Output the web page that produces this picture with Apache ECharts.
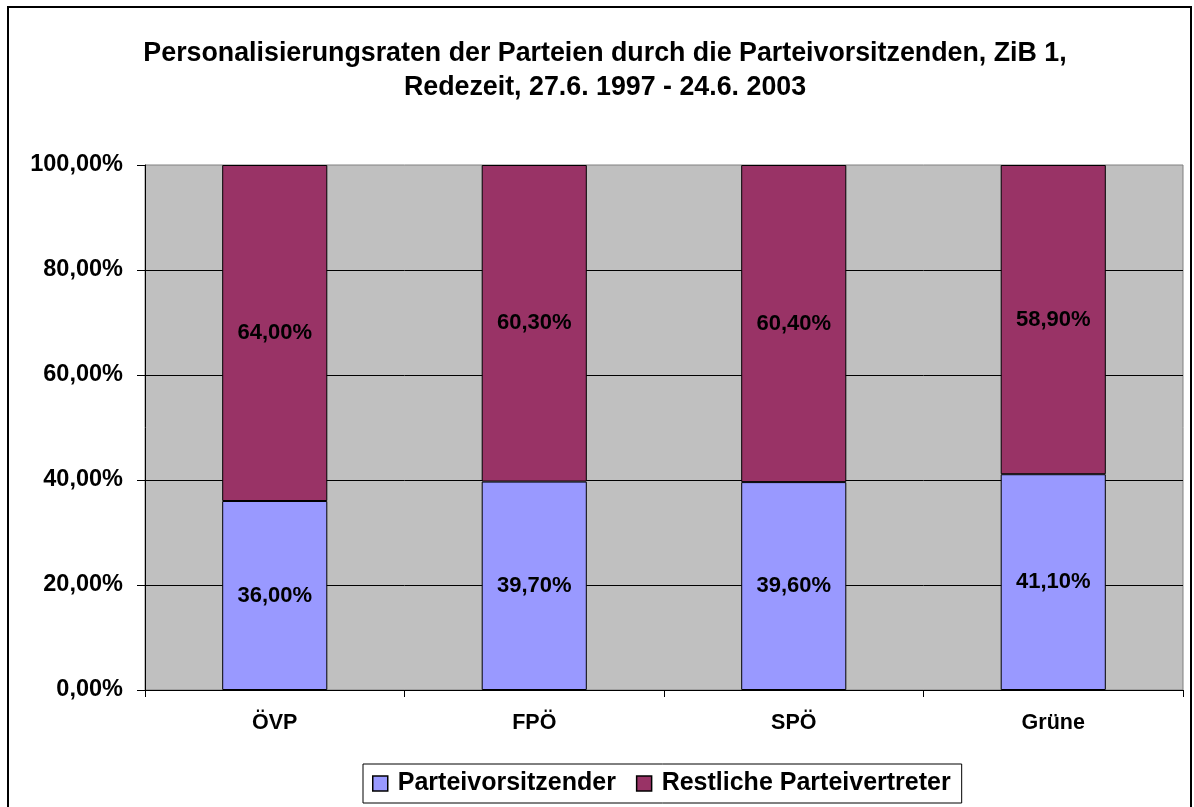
<!DOCTYPE html>
<html>
<head>
<meta charset="utf-8">
<script src="https://cdn.jsdelivr.net/npm/echarts@6/dist/echarts.min.js"></script>
<style>
  html, body { margin: 0; padding: 0; background: #fff; overflow: hidden; }
  #wrap { position: relative; width: 1194px; height: 807px; }
  #chart { width: 1194px; height: 807px; }
  #frame { position: absolute; left: 7px; top: 6px; width: 1181px; height: 900px; border: 2px solid #000; pointer-events: none; }
</style>
</head>
<body>
<div id="wrap">
  <div id="chart"></div>
  <div id="frame"></div>
</div>
<script>
  // Daten
  const parties = ['ÖVP', 'FPÖ', 'SPÖ', 'Grüne'];
  const vorsitzender = [36.0, 39.7, 39.6, 41.1];
  const restliche = [64.0, 60.3, 60.4, 58.9];
  const yTicks = [0, 20, 40, 60, 80, 100];

  const fmt = v => v.toFixed(2).replace('.', ',') + '%';
  const font = 'Liberation Sans, Arial, sans-serif';

  let myChart = echarts.init(document.getElementById('chart'));
  myChart.setOption({
    animation: false,
    textStyle: { fontFamily: font },
    title: {
      text: 'Personalisierungsraten der Parteien durch die Parteivorsitzenden, ZiB 1,\nRedezeit, 27.6. 1997 - 24.6. 2003',
      left: 600,
      textAlign: 'center',
      top: 32,
      textStyle: { fontSize: 26.8, fontWeight: 'bold', color: '#000', lineHeight: 34, fontFamily: font }
    },
    legend: {
      bottom: 4,
      left: 363,
      icon: 'rect',
      itemWidth: 15,
      itemHeight: 15,
      itemGap: 20,
      padding: [7, 11, 7, 9],
      borderColor: '#000',
      borderWidth: 1,
      textStyle: { fontSize: 25, fontWeight: 'bold', color: '#000', fontFamily: font, padding: [0, 0, 0, 5] },
      data: [
        { name: 'Parteivorsitzender', itemStyle: { borderColor: '#000', borderWidth: 1.5 } },
        { name: 'Restliche Parteivertreter', itemStyle: { borderColor: '#000', borderWidth: 1.5 } }
      ]
    },
    grid: {
      left: 145,
      right: 11,
      top: 165,
      bottom: 117,
      show: true,
      backgroundColor: '#C0C0C0',
      borderColor: '#808080',
      borderWidth: 1
    },
    xAxis: {
      type: 'category',
      data: parties,
      axisLine: { lineStyle: { color: '#000' } },
      axisTick: { show: true, length: 7, lineStyle: { color: '#000' } },
      axisLabel: { fontSize: 21.5, fontWeight: 'bold', color: '#000', margin: 22 }
    },
    yAxis: {
      type: 'value',
      min: 0,
      max: 100,
      interval: 20,
      axisLine: { show: true, lineStyle: { color: '#000' } },
      axisTick: { show: true, length: 8, lineStyle: { color: '#000' } },
      splitLine: { showMaxLine: false, lineStyle: { color: '#000', width: 1 } },
      axisLabel: {
        fontSize: 23.5, fontWeight: 'bold', color: '#000', margin: 22,
        formatter: v => yTicks.includes(v) ? fmt(v) : ''
      }
    },
    series: [
      {
        name: 'Parteivorsitzender',
        type: 'bar',
        stack: 'total',
        barWidth: '40.5%',
        data: vorsitzender,
        itemStyle: { color: '#9999FF', borderColor: '#000', borderWidth: 1 },
        label: {
          show: true, position: 'inside', fontSize: 22, fontWeight: 'bold', color: '#000',
          formatter: p => fmt(p.value)
        }
      },
      {
        name: 'Restliche Parteivertreter',
        type: 'bar',
        stack: 'total',
        data: restliche,
        itemStyle: { color: '#993366', borderColor: '#000', borderWidth: 1 },
        label: {
          show: true, position: 'inside', fontSize: 22, fontWeight: 'bold', color: '#000',
          formatter: p => fmt(p.value)
        }
      }
    ]
  });
</script>
</body>
</html>
